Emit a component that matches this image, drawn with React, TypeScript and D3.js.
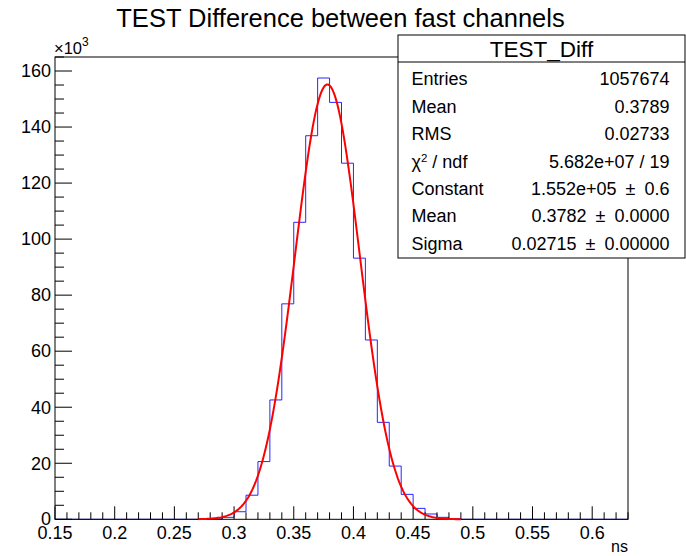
import React from "react";
import * as d3 from "d3";

// Histogram bins (lower edges, width 0.01) and counts
const binLow: number[] = [
  0.28, 0.29, 0.30, 0.31, 0.32, 0.33, 0.34, 0.35, 0.36, 0.37, 0.38,
  0.39, 0.40, 0.41, 0.42, 0.43, 0.44, 0.45, 0.46, 0.47, 0.48,
];
const counts: number[] = [
  100, 700, 2700, 8600, 20600, 42600, 76900, 106000, 136900, 157500, 148800,
  127100, 93200, 64000, 34600, 19000, 8900, 3900, 1900, 700, 200,
];
const binWidth = 0.01;
const xDomain: [number, number] = [0.15, 0.63];
const yDomain: [number, number] = [0, 165000];

// Gaussian fit parameters
const fitConstant = 1.552e5;
const fitMean = 0.3782;
const fitSigma = 0.02715;
const fitRange: [number, number] = [0.27, 0.49];

const xTickLabels: number[] = [0.15, 0.2, 0.25, 0.3, 0.35, 0.4, 0.45, 0.5, 0.55, 0.6];
const yTickLabels: number[] = [0, 20, 40, 60, 80, 100, 120, 140, 160];

const statsLabels: string[] = ["Entries", "Mean", "RMS", "CHI", "Constant", "Mean", "Sigma"];
const PM = "\u2002\u00b1\u2002";
const statsValues: string[] = [
  "1057674",
  "0.3789",
  "0.02733",
  "5.682e+07 / 19",
  "1.552e+05" + PM + "0.6",
  "0.3782" + PM + "0.0000",
  "0.02715" + PM + "0.00000",
];

const W = 686;
const H = 556;
const FONT = "'Liberation Sans', Arial, Helvetica, sans-serif";

export default function App() {
  const left = 55, right = 628, top = 57, bottom = 519.3;
  const x = d3.scaleLinear().domain(xDomain).range([left, right]);
  const y = d3.scaleLinear().domain(yDomain).range([bottom, top]);

  // histogram outline across the full axis range
  const nBins = Math.round((xDomain[1] - xDomain[0]) / binWidth);
  const full: number[] = [];
  for (let i = 0; i < nBins; i++) {
    const lo = +(xDomain[0] + i * binWidth).toFixed(2);
    const idx = binLow.findIndex((b) => Math.abs(b - lo) < 1e-6);
    full.push(idx >= 0 ? counts[idx] : 0);
  }
  let hPath = `M${x(xDomain[0])},${y(0)}`;
  full.forEach((c, i) => {
    const x0 = x(xDomain[0] + i * binWidth);
    const x1 = x(xDomain[0] + (i + 1) * binWidth);
    hPath += `L${x0},${y(c)}L${x1},${y(c)}`;
  });

  const fitPts: [number, number][] = d3
    .range(0, 201)
    .map((i) => fitRange[0] + (i / 200) * (fitRange[1] - fitRange[0]))
    .map((v) => [v, fitConstant * Math.exp(-0.5 * ((v - fitMean) / fitSigma) ** 2)]);
  const fitLine = d3
    .line<[number, number]>()
    .x((d) => x(d[0]))
    .y((d) => y(d[1]))
    .curve(d3.curveLinear)(fitPts) as string;

  const xMinor = d3.range(0, nBins + 1).map((i) => xDomain[0] + i * binWidth);
  const yMinor = d3.range(0, 34).map((i) => i * 5000);

  const box = { x0: 398, y0: 35, x1: 685, y1: 258, sep: 62 };
  const rowY0 = 79;
  const rowStep = 27.4;

  return (
    <svg
      width={W}
      height={H}
      style={{ position: "fixed", left: 0, top: 0, background: "#fff" }}
      fontFamily={FONT}
    >
      <rect x={0} y={0} width={W} height={H} fill="#fff" />
      {/* title */}
      <text x={340.5} y={27} fontSize={25.5} textAnchor="middle" fill="#000">
        TEST Difference between fast channels
      </text>

      {/* histogram */}
      <path d={hPath} fill="none" stroke="#0000ff" strokeWidth={1} opacity={0.85} />

      {/* frame */}
      <rect x={left} y={top} width={right - left} height={bottom - top} fill="none" stroke="#000" strokeWidth={1} />

      {/* x ticks */}
      {xMinor.map((v, i) => {
        const major = i % 5 === 0;
        return (
          <line key={"xm" + i} x1={x(v)} x2={x(v)} y1={bottom} y2={bottom - (major ? 13 : 7)} stroke="#000" strokeWidth={1} />
        );
      })}
      {xTickLabels.map((v) => (
        <text key={"xl" + v} x={x(v)} y={539} fontSize={18} textAnchor="middle" fill="#000">
          {String(v)}
        </text>
      ))}
      <text x={628} y={552} fontSize={16} textAnchor="end" fill="#000">ns</text>

      {/* y ticks */}
      {yMinor.map((v, i) => {
        const major = i % 4 === 0;
        return (
          <line key={"ym" + i} x1={left} x2={left + (major ? 17 : 9)} y1={y(v)} y2={y(v)} stroke="#000" strokeWidth={1} />
        );
      })}
      {yTickLabels.map((v) => (
        <text key={"yl" + v} x={51} y={y(v * 1000) + (v === 0 ? 5.5 : 6.3)} fontSize={18} textAnchor="end" fill="#000">
          {String(v)}
        </text>
      ))}
      <text x={54} y={53.5} fontSize={16.5} fill="#000">
        {"\u00d710"}
        <tspan dy={-8} fontSize={12}>3</tspan>
      </text>

      {/* fit */}
      <path d={fitLine} fill="none" stroke="#ff0000" strokeWidth={2} />

      {/* stats box */}
      <rect x={box.x0} y={box.y0} width={box.x1 - box.x0} height={box.y1 - box.y0} fill="#fff" stroke="#000" strokeWidth={1} />
      <line x1={box.x0} x2={box.x1} y1={box.sep} y2={box.sep} stroke="#000" strokeWidth={1} />
      <text x={(box.x0 + box.x1) / 2} y={56.5} fontSize={22.5} textAnchor="middle" fill="#000">TEST_Diff</text>
      {statsLabels.map((lab, i) => (
        <text key={"sl" + i} x={411.5} y={rowY0 + i * rowStep + 6.3} fontSize={18} fill="#000">
          {lab === "CHI" ? (
            <>
              {"\u03c7"}
              <tspan dy={-6} fontSize={11.5}>2</tspan>
              <tspan dy={6}>{" / ndf"}</tspan>
            </>
          ) : (
            lab
          )}
        </text>
      ))}
      {statsValues.map((val, i) => (
        <text key={"sv" + i} x={669.5} y={rowY0 + i * rowStep + 6.3} fontSize={18} textAnchor="end" fill="#000">
          {val}
        </text>
      ))}
    </svg>
  );
}
